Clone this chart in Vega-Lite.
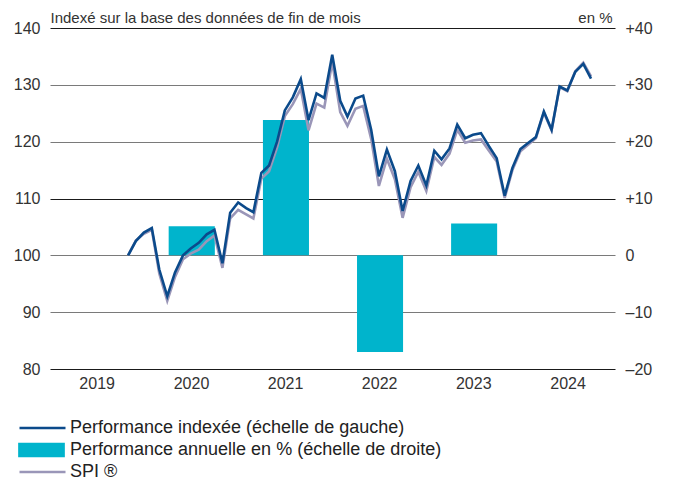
{
  "$schema": "https://vega.github.io/schema/vega-lite/v6.json",
  "width": 565,
  "height": 341,
  "autosize": "none",
  "padding": {"left": 50, "top": 28, "right": 58, "bottom": 113},
  "config": {
    "view": {"stroke": null},
    "font": "Liberation Sans",
    "axis": {"labelColor": "#333333", "titleColor": "#333333", "labelFont": "Liberation Sans", "titleFont": "Liberation Sans"}
  },
  "datasets": {
    "monthly": [
      {"date": "2019-10-31", "perf": 100.0, "spi": 100.0},
      {"date": "2019-11-30", "perf": 102.5, "spi": 102.6},
      {"date": "2019-12-31", "perf": 104.0, "spi": 103.8},
      {"date": "2020-01-31", "perf": 104.8, "spi": 104.5},
      {"date": "2020-02-29", "perf": 97.5, "spi": 96.8},
      {"date": "2020-03-31", "perf": 92.8, "spi": 92.0},
      {"date": "2020-04-30", "perf": 97.0, "spi": 96.2},
      {"date": "2020-05-31", "perf": 100.0, "spi": 99.3},
      {"date": "2020-06-30", "perf": 101.2, "spi": 100.3},
      {"date": "2020-07-31", "perf": 102.2, "spi": 101.0},
      {"date": "2020-08-31", "perf": 103.7, "spi": 102.5},
      {"date": "2020-09-30", "perf": 104.5, "spi": 103.5},
      {"date": "2020-10-31", "perf": 98.6, "spi": 97.8},
      {"date": "2020-11-30", "perf": 107.5, "spi": 106.5},
      {"date": "2020-12-31", "perf": 109.3, "spi": 108.0},
      {"date": "2021-01-31", "perf": 108.3, "spi": 107.2},
      {"date": "2021-02-28", "perf": 107.6, "spi": 106.5},
      {"date": "2021-03-31", "perf": 114.5, "spi": 113.5},
      {"date": "2021-04-30", "perf": 115.8, "spi": 114.8},
      {"date": "2021-05-31", "perf": 120.0, "spi": 119.0},
      {"date": "2021-06-30", "perf": 125.5, "spi": 124.5},
      {"date": "2021-07-31", "perf": 127.8, "spi": 126.6},
      {"date": "2021-08-31", "perf": 131.0, "spi": 129.3},
      {"date": "2021-09-30", "perf": 123.8, "spi": 122.0},
      {"date": "2021-10-31", "perf": 128.5, "spi": 126.7},
      {"date": "2021-11-30", "perf": 127.7, "spi": 126.0},
      {"date": "2021-12-31", "perf": 135.3, "spi": 134.0},
      {"date": "2022-01-31", "perf": 127.2, "spi": 125.2},
      {"date": "2022-02-28", "perf": 124.4, "spi": 122.8},
      {"date": "2022-03-31", "perf": 127.6, "spi": 125.8},
      {"date": "2022-04-30", "perf": 128.1, "spi": 126.3},
      {"date": "2022-05-31", "perf": 122.1, "spi": 120.5},
      {"date": "2022-06-30", "perf": 113.9, "spi": 112.2},
      {"date": "2022-07-31", "perf": 118.6, "spi": 117.0},
      {"date": "2022-08-31", "perf": 114.8, "spi": 113.4},
      {"date": "2022-09-30", "perf": 107.8, "spi": 106.6},
      {"date": "2022-10-31", "perf": 113.1, "spi": 112.0},
      {"date": "2022-11-30", "perf": 115.8, "spi": 114.7},
      {"date": "2022-12-31", "perf": 112.3, "spi": 111.3},
      {"date": "2023-01-31", "perf": 118.4, "spi": 117.3},
      {"date": "2023-02-28", "perf": 116.9, "spi": 115.9},
      {"date": "2023-03-31", "perf": 118.8, "spi": 117.9},
      {"date": "2023-04-30", "perf": 123.0, "spi": 122.1},
      {"date": "2023-05-31", "perf": 120.6, "spi": 119.8},
      {"date": "2023-06-30", "perf": 121.2, "spi": 120.2},
      {"date": "2023-07-31", "perf": 121.5, "spi": 120.4},
      {"date": "2023-08-31", "perf": 119.2, "spi": 118.4},
      {"date": "2023-09-30", "perf": 117.1, "spi": 116.5},
      {"date": "2023-10-31", "perf": 110.5, "spi": 110.1},
      {"date": "2023-11-30", "perf": 115.4, "spi": 115.0},
      {"date": "2023-12-31", "perf": 118.7, "spi": 118.3},
      {"date": "2024-01-31", "perf": 119.8, "spi": 119.5},
      {"date": "2024-02-29", "perf": 120.8, "spi": 120.6},
      {"date": "2024-03-31", "perf": 125.3, "spi": 125.1},
      {"date": "2024-04-30", "perf": 122.1, "spi": 122.0},
      {"date": "2024-05-31", "perf": 129.7, "spi": 129.6},
      {"date": "2024-06-30", "perf": 129.0, "spi": 128.9},
      {"date": "2024-07-31", "perf": 132.3, "spi": 132.4},
      {"date": "2024-08-31", "perf": 133.7, "spi": 133.9},
      {"date": "2024-09-30", "perf": 131.1, "spi": 131.5}
    ],
    "annual": [
      {"year": "2020", "pct": 5.1},
      {"year": "2021", "pct": 23.8},
      {"year": "2022", "pct": -17.0},
      {"year": "2023", "pct": 5.6}
    ]
  },
  "layer": [
    {
      "data": {"name": "annual"},
      "mark": {"type": "bar", "width": {"band": 0.5}},
      "encoding": {
        "x": {
          "field": "year", "timeUnit": "utcyear", "type": "temporal", "title": null,
          "scale": {"domain": [{"year": 2019, "month": 1, "date": 1, "utc": true}, {"year": 2025, "month": 1, "date": 1, "utc": true}]},
          "axis": {
            "values": [
              {"year": 2019, "month": 7, "date": 1, "utc": true},
              {"year": 2020, "month": 7, "date": 1, "utc": true},
              {"year": 2021, "month": 7, "date": 1, "utc": true},
              {"year": 2022, "month": 7, "date": 1, "utc": true},
              {"year": 2023, "month": 7, "date": 1, "utc": true},
              {"year": 2024, "month": 7, "date": 1, "utc": true}
            ],
            "labelExpr": "utcFormat(datum.value, '%Y')",
            "ticks": false, "domain": false, "grid": false,
            "labelFontSize": 16, "labelPadding": 6, "labelColor": "#333333"
          }
        },
        "y": {
          "field": "pct", "type": "quantitative",
          "scale": {"domain": [-20, 40]},
          "axis": {
            "orient": "right", "values": [-20, -10, 0, 10, 20, 30, 40],
            "labelExpr": "datum.value > 0 ? '+' + datum.value : (datum.value < 0 ? '–' + abs(datum.value) : '0')",
            "grid": false, "ticks": false, "domain": false,
            "labelFontSize": 16, "labelPadding": 10,
            "title": "en %", "titleAngle": 0, "titleX": -3, "titleY": -6,
            "titleAlign": "right", "titleBaseline": "alphabetic",
            "titleFontSize": 15, "titleFontWeight": "normal"
          }
        },
        "color": {
          "datum": "Performance annuelle en % (échelle de droite)",
          "scale": {
            "domain": ["Performance indexée (échelle de gauche)", "Performance annuelle en % (échelle de droite)", "SPI ®"],
            "range": ["#0b4a8b", "#00b4cc", "#9a96b8"]
          },
          "legend": {
            "orient": "none", "legendX": -16.5, "legendY": 391, "direction": "vertical",
            "title": null, "padding": 0, "symbolSize": 100, "symbolStrokeWidth": 2.7,
            "labelFontSize": 18, "labelOffset": 18.5, "rowPadding": 1,
            "labelColor": "#222222", "labelFont": "Liberation Sans", "labelLimit": 0,
            "encode": {
              "symbols": {
                "update": {
                  "shape": [
                    {"test": "datum.value === 'Performance annuelle en % (échelle de droite)'", "value": "M-4.6,-1.2H4.2V1.2H-4.6Z"},
                    {"value": "M-4.6,0H4.6"}
                  ],
                  "fill": [
                    {"test": "datum.value === 'Performance annuelle en % (échelle de droite)'", "value": "#00b4cc"},
                    {"value": "transparent"}
                  ],
                  "stroke": [
                    {"test": "datum.value === 'Performance annuelle en % (échelle de droite)'", "value": "transparent"},
                    {"test": "datum.value === 'SPI ®'", "value": "#9a96b8"},
                    {"value": "#0b4a8b"}
                  ],
                  "strokeWidth": {"value": 2.7},
                  "opacity": {"value": 1}
                }
              }
            }
          }
        }
      }
    },
    {
      "data": {"name": "monthly"},
      "layer": [
        {
          "mark": {"type": "line", "strokeWidth": 2.6},
          "encoding": {
            "x": {"field": "date", "type": "temporal", "title": null},
            "y": {
              "field": "spi", "type": "quantitative",
              "title": "Indexé sur la base des données de fin de mois",
              "scale": {"domain": [80, 140]},
              "axis": {
                "orient": "left", "values": [80, 90, 100, 110, 120, 130, 140],
                "grid": true,
                "gridColor": {"condition": {"test": "datum.value === 140 || datum.value === 110 || datum.value === 80", "value": "#1a1a1a"}, "value": "#7a7a7a"},
                "gridWidth": 1.2, "gridOpacity": 1,
                "ticks": false, "domain": false,
                "labelFontSize": 16, "labelPadding": 10,
                "titleAngle": 0, "titleX": 0, "titleY": -6,
                "titleAlign": "left", "titleBaseline": "alphabetic",
                "titleFontSize": 15, "titleFontWeight": "normal"
              }
            },
            "color": {"datum": "SPI ®"}
          }
        },
        {
          "mark": {"type": "line", "strokeWidth": 2.6},
          "encoding": {
            "x": {"field": "date", "type": "temporal", "title": null},
            "y": {"field": "perf", "type": "quantitative", "title": "Indexé sur la base des données de fin de mois"},
            "color": {"datum": "Performance indexée (échelle de gauche)"}
          }
        }
      ]
    }
  ],
  "resolve": {"scale": {"y": "independent"}}
}
